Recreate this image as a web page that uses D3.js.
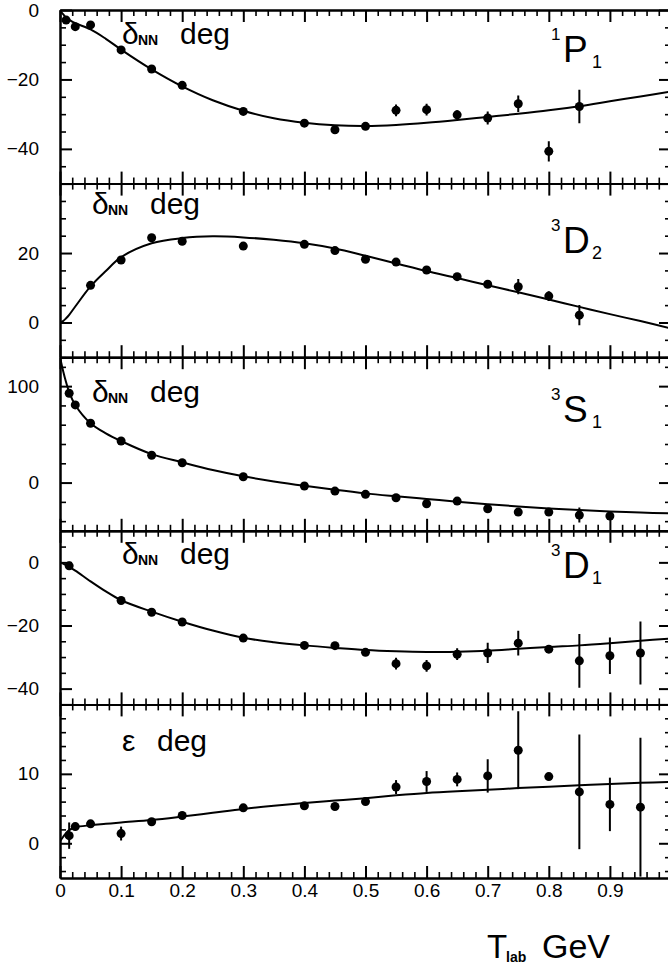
<!DOCTYPE html>
<html>
<head>
<meta charset="utf-8">
<script src="https://cdn.jsdelivr.net/npm/d3@7"></script>
<style>
  body { margin: 0; background: #fff; }
  svg { display: block; font-family: "Liberation Sans", Arial, Helvetica, sans-serif; }
  .axis path, .axis line { stroke: #000; stroke-width: 2; fill: none; }
  .axis.minor line { stroke-width: 1.6; }
  .axis text { font-size: 19px; fill: #000; }
</style>
</head>
<body>
<svg id="chart" width="668" height="972"></svg>
<script>
// ===== DATA =====
// common energy grid of the model curves (GeV)
const curveT = [0, 0.005, 0.01, 0.015, 0.025, 0.05, 0.075, 0.1, 0.15, 0.2, 0.25, 0.3, 0.35,
  0.4, 0.45, 0.5, 0.55, 0.6, 0.65, 0.7, 0.75, 0.8, 0.85, 0.9, 0.95, 1.0];

// 1P1
const p1Curve = [-0.3, -1.2, -2.2, -2.8, -3.8, -5.6, -8.3, -11.4, -17.1, -22.0, -26.0, -29.0, -31.2,
  -32.5, -33.2, -33.4, -33.1, -32.5, -31.7, -30.8, -29.9, -28.9, -27.7, -26.3, -24.9, -23.5];
const p1T = [0.01, 0.025, 0.05, 0.1, 0.15, 0.2, 0.3, 0.4, 0.45, 0.5, 0.55, 0.6, 0.65, 0.7, 0.75, 0.8, 0.85];
const p1Vals = [-2.9, -4.8, -4.3, -11.5, -17.0, -21.7, -29.2, -32.6, -34.5, -33.5, -28.9, -28.7, -30.2, -31.1, -27.0, -40.7, -27.8];
const p1Errs = [0, 0, 0, 0, 0, 0, 0, 0, 0, 0, 1.7, 1.7, 1.3, 1.9, 2.4, 2.9, 4.8];

// 3D2
const d2Curve = [0, 0.4, 1.2, 2.2, 4.6, 10.4, 14.8, 18.8, 22.8, 24.3, 24.8, 24.5, 23.8,
  22.8, 21.3, 19.2, 17.0, 14.8, 12.8, 10.7, 8.7, 6.6, 4.5, 2.4, 0.4, -1.7];
const d2T = [0.05, 0.1, 0.15, 0.2, 0.3, 0.4, 0.45, 0.5, 0.55, 0.6, 0.65, 0.7, 0.75, 0.8, 0.85];
const d2Vals = [10.7, 18.0, 24.4, 23.4, 22.0, 22.5, 20.7, 18.2, 17.4, 15.1, 13.2, 11.0, 10.3, 7.6, 2.1];
const d2Errs = [0, 0, 0, 0, 0, 0, 0, 0, 0, 0, 0, 0, 2.2, 1.4, 2.9];

// 3S1
const s1Curve = [130, 116, 104, 94, 80.5, 61.5, 51, 43, 29.5, 21, 13, 6.5, 1.2,
  -3.4, -7.5, -11.2, -14.2, -17.0, -19.8, -22.4, -24.8, -26.8, -28.5, -29.9, -31.0, -32.0];
const s1T = [0.015, 0.025, 0.05, 0.1, 0.15, 0.2, 0.3, 0.4, 0.45, 0.5, 0.55, 0.6, 0.65, 0.7, 0.75, 0.8, 0.85, 0.9];
const s1Vals = [92.6, 80.5, 61.5, 43.1, 28.3, 20.6, 6.1, -3.6, -8.8, -12.2, -15.7, -21.9, -19.2, -27.1, -30.6, -30.6, -33.7, -34.7];
const s1Errs = [0, 0, 0, 0, 0, 0, 0, 0, 0, 0, 0, 0, 0, 0, 0, 0, 7.8, 0];

// 3D1
const d1Curve = [0, -0.4, -0.9, -1.4, -2.6, -6.0, -9.2, -12.0, -15.6, -18.8, -21.6, -23.9, -25.3,
  -26.3, -27.1, -27.8, -28.2, -28.4, -28.3, -28.0, -27.4, -26.8, -26.3, -25.6, -24.8, -24.1];
const d1T = [0.015, 0.1, 0.15, 0.2, 0.3, 0.4, 0.45, 0.5, 0.55, 0.6, 0.65, 0.7, 0.75, 0.8, 0.85, 0.9, 0.95];
const d1Vals = [-1.1, -12.1, -15.8, -18.9, -24.0, -26.3, -26.4, -28.5, -32.1, -32.8, -29.1, -28.7, -25.6, -27.5, -31.2, -29.6, -28.7];
const d1Errs = [1.3, 0, 0, 0, 0, 0, 0, 0, 1.85, 1.85, 1.85, 3.2, 3.9, 0, 8.5, 5.8, 10];

// epsilon
const epsCurve = [0.3, 0.9, 1.5, 1.9, 2.3, 2.6, 2.8, 3.0, 3.35, 3.85, 4.4, 4.95, 5.4,
  5.8, 6.15, 6.5, 6.9, 7.25, 7.5, 7.7, 7.95, 8.15, 8.35, 8.55, 8.7, 8.85];
const epsT = [0.015, 0.025, 0.05, 0.1, 0.15, 0.2, 0.3, 0.4, 0.45, 0.5, 0.55, 0.6, 0.65, 0.7, 0.75, 0.8, 0.85, 0.9, 0.95];
const epsVals = [1.1, 2.4, 2.8, 1.4, 3.1, 4.0, 5.1, 5.4, 5.3, 6.0, 8.1, 8.9, 9.2, 9.7, 13.4, 9.6, 7.4, 5.6, 5.2];
const epsErrs = [1.9, 0, 0, 1.0, 0, 0, 0, 0, 0, 0, 1.0, 1.5, 1.0, 2.4, 5.6, 0, 8.25, 3.85, 10];

const xTickLabels = [0, 0.1, 0.2, 0.3, 0.4, 0.5, 0.6, 0.7, 0.8, 0.9];

const panels = [
  { domain: [-50, 0], major: 20, minor: 5, labels: [0, -20, -40], curve: p1Curve, T: p1T, vals: p1Vals, errs: p1Errs,
    sym: "δ", symX: 122, symOff: 34, sup: "1", wave: "P", sub: "1", waveOff: 52 },
  { domain: [-10, 40], major: 20, minor: 5, labels: [20, 0], curve: d2Curve, T: d2T, vals: d2Vals, errs: d2Errs,
    sym: "δ", symX: 92, symOff: 30, sup: "3", wave: "D", sub: "2", waveOff: 69 },
  { domain: [-50, 130], major: 100, minor: 20, labels: [100, 0], curve: s1Curve, T: s1T, vals: s1Vals, errs: s1Errs,
    sym: "δ", symX: 92, symOff: 45, sup: "3", wave: "S", sub: "1", waveOff: 65 },
  { domain: [-45, 10], major: 20, minor: 5, labels: [0, -20, -40], curve: d1Curve, T: d1T, vals: d1Vals, errs: d1Errs,
    sym: "δ", symX: 122, symOff: 33, sup: "3", wave: "D", sub: "1", waveOff: 47 },
  { domain: [-5, 20], major: 10, minor: 2, labels: [10, 0], curve: epsCurve, T: epsT, vals: epsVals, errs: epsErrs,
    sym: "ε", symX: 122, symOff: 47 }
];

// ===== LAYOUT =====
const svg = d3.select("#chart");
const left = 60, right = 671, top0 = 10, bottom0 = 878;
const panelH = (bottom0 - top0) / panels.length;

const x = d3.scaleLinear().domain([0, 1]).range([left, right]);
const xMajor = d3.range(0, 1.0001, 0.1);
const xMinor = d3.range(0, 1.0001, 0.02).filter(v => Math.abs(v * 10 - Math.round(v * 10)) > 1e-6);

const fmt = d3.format("");
const line = d3.line().curve(d3.curveCatmullRom);

panels.forEach((p, i) => {
  const top = top0 + i * panelH;
  const bot = top + panelH;
  const y = d3.scaleLinear().domain(p.domain).range([bot, top]);
  const g = svg.append("g");

  const lo = p.domain[0], hi = p.domain[1];
  const yMajor = d3.range(Math.ceil(lo / p.major) * p.major, hi + 1e-6, p.major);
  const yMinor = d3.range(Math.ceil(lo / p.minor) * p.minor, hi + 1e-6, p.minor)
    .filter(v => !yMajor.includes(v));

  // clip for marks
  const clipId = "clip" + i;
  svg.append("clipPath").attr("id", clipId).append("rect")
    .attr("x", left).attr("y", top).attr("width", right - left).attr("height", panelH);

  // y axes (left with labels, right without)
  g.append("g").attr("class", "axis minor").attr("transform", `translate(${left},0)`)
    .call(d3.axisLeft(y).tickValues(yMinor).tickSize(-6).tickSizeOuter(0).tickFormat(""));
  g.append("g").attr("class", "axis").attr("transform", `translate(${left},0)`)
    .call(d3.axisLeft(y).tickValues(yMajor).tickSize(-12).tickSizeOuter(0).tickPadding(21)
      .tickFormat(d => p.labels.includes(d) ? fmt(d) : ""));
  g.append("g").attr("class", "axis minor").attr("transform", `translate(${right},0)`)
    .call(d3.axisRight(y).tickValues(yMinor).tickSize(-6).tickSizeOuter(0).tickFormat(""));
  g.append("g").attr("class", "axis").attr("transform", `translate(${right},0)`)
    .call(d3.axisRight(y).tickValues(yMajor).tickSize(-12).tickSizeOuter(0).tickFormat(""));

  // x axes (top and bottom of every panel, ticks inward)
  g.append("g").attr("class", "axis minor").attr("transform", `translate(0,${top})`)
    .call(d3.axisTop(x).tickValues(xMinor).tickSize(-6).tickSizeOuter(0).tickFormat(""));
  g.append("g").attr("class", "axis").attr("transform", `translate(0,${top})`)
    .call(d3.axisTop(x).tickValues(xMajor).tickSize(-12).tickSizeOuter(0).tickFormat(""));
  g.append("g").attr("class", "axis minor").attr("transform", `translate(0,${bot})`)
    .call(d3.axisBottom(x).tickValues(xMinor).tickSize(-6).tickSizeOuter(0).tickFormat(""));
  const isLast = i === panels.length - 1;
  g.append("g").attr("class", "axis").attr("transform", `translate(0,${bot})`)
    .call(d3.axisBottom(x).tickValues(xMajor).tickSize(-12).tickSizeOuter(0).tickPadding(6)
      .tickFormat(d => isLast && xTickLabels.some(v => Math.abs(v - d) < 1e-6) ? (d === 0 ? "0" : d3.format(".1f")(d)) : ""));

  // model curve
  const marks = g.append("g").attr("clip-path", `url(#${clipId})`);
  marks.append("path")
    .datum(curveT.map((t, k) => [x(t), y(p.curve[k])]))
    .attr("fill", "none")
    .attr("stroke", "#000")
    .attr("stroke-width", 2)
    .attr("d", line);

  // error bars
  p.T.forEach((t, k) => {
    if (p.errs[k] > 0) {
      marks.append("line")
        .attr("x1", x(t)).attr("x2", x(t))
        .attr("y1", y(p.vals[k] - p.errs[k]))
        .attr("y2", y(p.vals[k] + p.errs[k]))
        .attr("stroke", "#000")
        .attr("stroke-width", 2);
    }
  });

  // data points
  marks.selectAll("circle")
    .data(p.T.map((t, k) => [t, p.vals[k]]))
    .enter()
    .append("circle")
    .attr("cx", d => x(d[0]))
    .attr("cy", d => y(d[1]))
    .attr("r", 4.5)
    .attr("fill", "#000");

  // quantity label
  const sy = top + p.symOff;
  g.append("text").attr("x", p.symX).attr("y", sy).attr("font-size", 30).text(p.sym);
  if (p.sym === "δ") {
    g.append("text").attr("x", p.symX + 16).attr("y", sy + 1)
      .attr("font-size", 14).attr("font-weight", "bold").text("NN");
    g.append("text").attr("x", p.symX + 58).attr("y", sy).attr("font-size", 30).text("deg");
  } else {
    g.append("text").attr("x", p.symX + 35).attr("y", sy).attr("font-size", 30).text("deg");
  }

  // partial wave label
  if (p.wave) {
    const wy = top + p.waveOff;
    g.append("text").attr("x", 551).attr("y", wy - 22).attr("font-size", 17).text(p.sup);
    g.append("text").attr("x", 563).attr("y", wy).attr("font-size", 37).text(p.wave);
    g.append("text").attr("x", 592).attr("y", wy + 6).attr("font-size", 18).text(p.sub);
  }
});

// ===== X TITLE =====
svg.append("text").attr("x", 487).attr("y", 958).attr("font-size", 33).text("T");
svg.append("text").attr("x", 506).attr("y", 962).attr("font-size", 14).attr("font-weight", "bold").text("lab");
svg.append("text").attr("x", 542).attr("y", 958).attr("font-size", 34).text("GeV");
</script>
</body>
</html>
